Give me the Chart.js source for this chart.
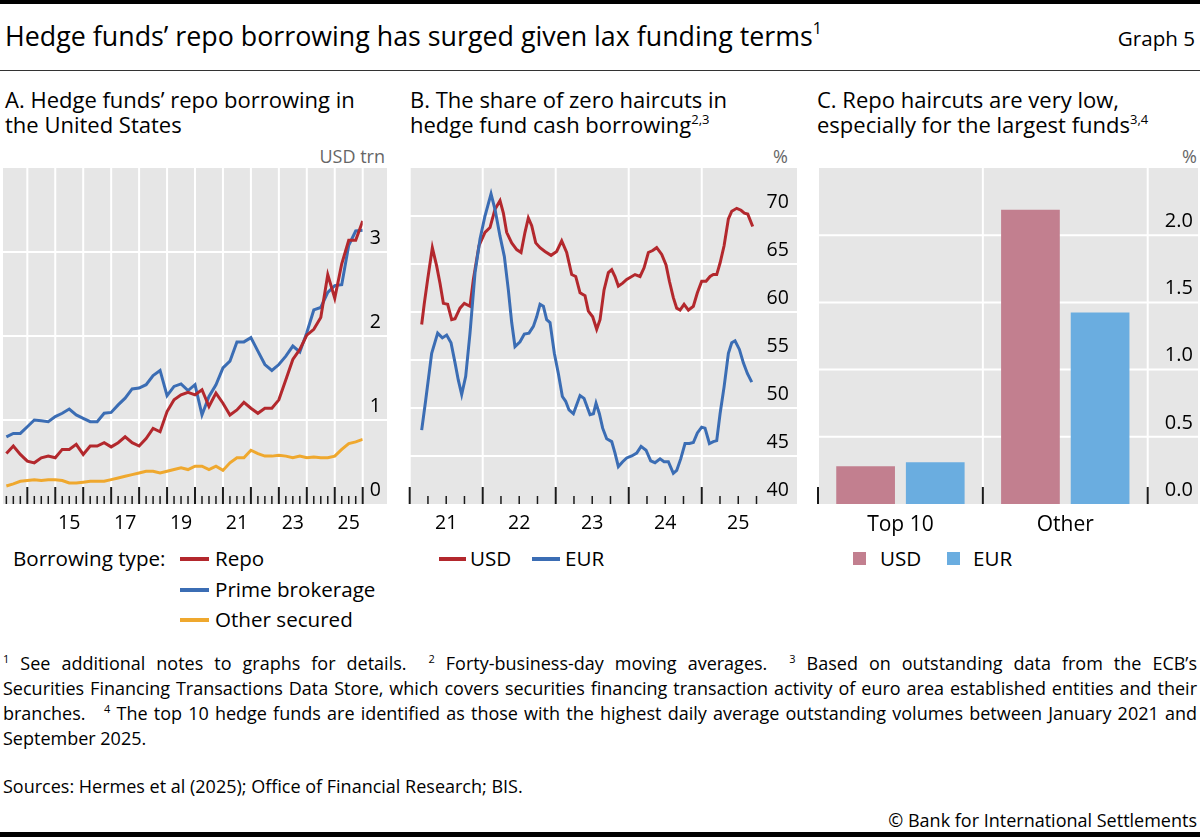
<!DOCTYPE html>
<html>
<head>
<meta charset="utf-8">
<script src="https://cdn.jsdelivr.net/npm/chart.js@4.4.1/dist/chart.umd.min.js"></script>
<style>
  body { margin: 0; width: 1200px; height: 837px; position: relative; background: #fff; overflow: hidden;
         font-family: "Open Sans", sans-serif; color: #000; }
  .t { position: absolute; white-space: nowrap; line-height: 1; }
  .bar { position: absolute; left: 0; width: 1200px; background: #000; }
  canvas { position: absolute; }
  .sw { position: absolute; height: 4px; }
  .sq { position: absolute; width: 13px; height: 13px; }
  .lg { font-size: 20.6px; }
  .fn { position: absolute; left: 3px; width: 1194px; font-size: 18px; line-height: 1; white-space: nowrap;
        text-align: justify; text-align-last: justify; }
  .fn sup, .t sup { font-size: 11px; vertical-align: baseline; position: relative; top: -7px; }
  .pt sup { font-size: 13px; top: -9px; }
</style>
</head>
<body>
<div class="bar" style="top:0;height:4px"></div>
<div class="t" style="left:5px;top:23px;font-size:26.8px">Hedge funds’ repo borrowing has surged given lax funding terms<sup style="font-size:16px;top:-12px">1</sup></div>
<div class="t" style="right:5px;top:28px;font-size:20.6px">Graph 5</div>
<div class="bar" style="top:70px;height:1px;background:#333"></div>

<div class="t pt" style="left:5px;top:87px;font-size:22px;line-height:25px">A. Hedge funds’ repo borrowing in<br>the United States</div>
<div class="t pt" style="left:410px;top:87px;font-size:22px;line-height:25px">B. The share of zero haircuts in<br>hedge fund cash borrowing<sup>2,3</sup></div>
<div class="t pt" style="left:817px;top:87px;font-size:22px;line-height:25px">C. Repo haircuts are very low,<br>especially for the largest funds<sup>3,4</sup></div>

<div class="t" style="right:815px;top:147px;font-size:18px;color:#666">USD trn</div>
<div class="t" style="right:412px;top:147px;font-size:18px;color:#666">%</div>
<div class="t" style="right:3px;top:147px;font-size:18px;color:#666">%</div>

<canvas id="chartA" width="387" height="390" style="left:0;top:150px;width:387px;height:390px"></canvas>
<canvas id="chartB" width="397" height="390" style="left:400px;top:150px;width:397px;height:390px"></canvas>
<canvas id="chartC" width="388" height="390" style="left:810px;top:150px;width:388px;height:390px"></canvas>

<!-- legends -->
<div class="t lg" style="left:13px;top:548px">Borrowing type:</div>
<div class="sw" style="left:180px;top:557px;width:29px;background:#b3282d"></div>
<div class="t lg" style="left:215px;top:548px">Repo</div>
<div class="sw" style="left:180px;top:588px;width:29px;background:#3b6db4"></div>
<div class="t lg" style="left:215px;top:579px">Prime brokerage</div>
<div class="sw" style="left:180px;top:618px;width:29px;background:#efa82e"></div>
<div class="t lg" style="left:215px;top:609px">Other secured</div>

<div class="sw" style="left:439px;top:557px;width:27px;background:#b3282d"></div>
<div class="t lg" style="left:470px;top:548px">USD</div>
<div class="sw" style="left:532px;top:557px;width:28px;background:#3b6db4"></div>
<div class="t lg" style="left:565px;top:548px">EUR</div>

<div class="sq" style="left:853px;top:552px;background:#c27f8f"></div>
<div class="t lg" style="left:880px;top:548px">USD</div>
<div class="sq" style="left:947px;top:552px;background:#6aade0"></div>
<div class="t lg" style="left:973px;top:548px">EUR</div>

<!-- footnotes -->
<div class="fn" style="top:654px"><sup>1</sup> See additional notes to graphs for details. &nbsp;<sup>2</sup> Forty-business-day moving averages. &nbsp;<sup>3</sup> Based on outstanding data from the ECB’s</div>
<div class="fn" style="top:679px">Securities Financing Transactions Data Store, which covers securities financing transaction activity of euro area established entities and their</div>
<div class="fn" style="top:704px">branches. &nbsp;&nbsp;<sup>4</sup> The top 10 hedge funds are identified as those with the highest daily average outstanding volumes between January 2021 and</div>
<div class="fn" style="top:729px;text-align:left;text-align-last:left">September 2025.</div>
<div class="t" style="left:3px;top:777px;font-size:18px">Sources: Hermes et al (2025); Office of Financial Research; BIS.</div>
<div class="t" style="right:3px;top:811px;font-size:18px">© Bank for International Settlements</div>
<div class="bar" style="top:832px;height:5px"></div>

<script>
// ---- Panel A: quarterly, USD trn ----
const quartersA = [
  '2013Q1','2013Q2','2013Q3','2013Q4','2014Q1','2014Q2','2014Q3','2014Q4',
  '2015Q1','2015Q2','2015Q3','2015Q4','2016Q1','2016Q2','2016Q3','2016Q4',
  '2017Q1','2017Q2','2017Q3','2017Q4','2018Q1','2018Q2','2018Q3','2018Q4',
  '2019Q1','2019Q2','2019Q3','2019Q4','2020Q1','2020Q2','2020Q3','2020Q4',
  '2021Q1','2021Q2','2021Q3','2021Q4','2022Q1','2022Q2','2022Q3','2022Q4',
  '2023Q1','2023Q2','2023Q3','2023Q4','2024Q1','2024Q2','2024Q3','2024Q4',
  '2025Q1','2025Q2','2025Q3','2025Q4'
];
const repo = [
  0.60,0.69,0.59,0.51,0.49,0.55,0.57,0.55,0.65,0.65,0.71,0.59,0.69,0.69,0.73,0.68,
  0.73,0.80,0.73,0.69,0.78,0.90,0.86,1.10,1.24,1.30,1.33,1.30,
  1.36,1.16,1.32,1.20,1.06,1.12,1.21,1.14,1.08,1.14,1.14,1.24,1.48,1.72,1.84,2.01,
  2.08,2.22,2.73,2.45,2.86,3.14,3.14,3.37
];
const primeBrokerage = [
  0.80,0.84,0.84,0.92,1.00,0.99,0.98,1.04,1.08,1.13,1.06,1.02,0.98,0.98,1.08,1.09,
  1.18,1.26,1.37,1.38,1.42,1.53,1.59,1.29,1.40,1.43,1.35,1.42,
  1.06,1.28,1.42,1.62,1.70,1.93,1.93,1.98,1.82,1.66,1.59,1.66,1.76,1.88,1.81,2.04,
  2.31,2.34,2.52,2.60,2.61,3.08,3.25,3.26
];
const otherSecured = [
  0.215,0.24,0.27,0.28,0.29,0.28,0.29,0.29,0.28,0.25,0.25,0.26,0.27,0.27,0.27,0.29,
  0.31,0.33,0.35,0.37,0.39,0.39,0.37,0.39,0.41,0.43,0.41,0.45,
  0.45,0.41,0.45,0.40,0.49,0.55,0.55,0.64,0.60,0.57,0.57,0.58,0.57,0.55,0.57,0.55,
  0.56,0.55,0.55,0.57,0.65,0.72,0.74,0.77
];
const tickLabelsA = ['15','17','19','21','23','25'];

// ---- Panel B: share of zero haircuts, % (dates as decimal years) ----
const usdDates = [
  2021.164,2021.200,2021.246,2021.310,2021.369,2021.415,2021.461,2021.520,2021.575,2021.621,
  2021.689,2021.748,2021.826,2021.872,2021.949,2022.031,2022.100,2022.168,2022.237,2022.283,
  2022.328,2022.397,2022.465,2022.525,2022.579,2022.625,2022.671,2022.726,2022.785,2022.853,
  2022.936,2023.013,2023.082,2023.150,2023.219,2023.274,2023.333,2023.401,2023.447,2023.506,
  2023.561,2023.607,2023.662,2023.721,2023.767,2023.812,2023.858,2023.917,2023.972,2024.018,
  2024.086,2024.155,2024.210,2024.269,2024.328,2024.383,2024.452,2024.511,2024.557,2024.611,
  2024.657,2024.703,2024.758,2024.817,2024.885,2024.940,2024.999,2025.059,2025.114,2025.159,
  2025.205,2025.251,2025.306,2025.365,2025.411,2025.479,2025.538,2025.584,2025.630,2025.698
];
const usdShare = [
  58.7,60.9,63.4,66.7,64.8,63.0,60.9,60.8,59.2,59.3,
  60.4,60.9,60.6,63.4,66.9,68.3,68.8,70.7,71.6,70.3,
  68.3,67.2,66.5,66.2,68.3,69.8,69.0,67.2,66.7,66.3,
  65.9,66.3,67.4,66.2,63.9,63.7,62.0,61.7,60.1,59.5,
  58.2,59.2,62.3,64.1,64.4,63.7,62.7,63.0,63.4,63.6,
  63.9,63.7,64.6,66.2,66.4,66.7,66.0,64.9,63.2,61.5,
  60.4,60.2,60.8,60.2,60.6,62.0,63.2,63.2,63.7,63.9,
  63.9,65.1,66.9,69.7,70.5,70.8,70.6,70.3,70.2,68.9
];
const eurDates = [
  2021.164,2021.219,2021.301,2021.383,2021.447,2021.506,2021.566,2021.621,2021.666,2021.712,
  2021.767,2021.826,2021.895,2021.963,2022.031,2022.114,2022.168,2022.237,2022.296,2022.351,
  2022.397,2022.442,2022.511,2022.570,2022.634,2022.694,2022.739,2022.785,2022.831,2022.876,
  2022.922,2022.981,2023.036,2023.091,2023.136,2023.182,2023.242,2023.333,2023.388,2023.470,
  2023.516,2023.552,2023.598,2023.643,2023.698,2023.767,2023.812,2023.858,2023.917,2023.972,
  2024.041,2024.109,2024.169,2024.237,2024.301,2024.360,2024.429,2024.484,2024.543,2024.611,
  2024.657,2024.712,2024.771,2024.831,2024.885,2024.940,2024.999,2025.045,2025.105,2025.159,
  2025.205,2025.251,2025.306,2025.365,2025.411,2025.456,2025.516,2025.570,2025.625,2025.685
];
const eurShare = [
  47.7,50.8,55.7,57.8,57.3,57.6,56.8,54.7,52.9,51.4,
  53.3,57.8,64.1,67.6,70.0,72.3,70.7,67.9,65.8,62.3,
  58.9,56.4,56.9,57.7,57.8,58.5,59.5,60.8,60.6,59.2,
  58.9,55.7,53.6,51.2,50.7,49.8,49.4,51.3,51.0,49.3,
  49.4,50.5,49.4,47.9,46.8,46.5,45.3,43.9,44.4,44.8,
  45.0,45.3,46.0,45.6,44.5,44.3,44.7,44.4,44.4,43.2,
  43.5,44.7,46.3,46.3,46.4,47.4,48.0,47.9,46.3,46.5,
  46.6,49.4,52.2,55.7,56.8,57.0,56.1,54.7,53.6,52.7
];
const tickLabelsB = ['21','22','23','24','25'];

// ---- Panel C: repo haircuts, % ----
const categoriesC = ['Top 10', 'Other'];
const usdHaircut = [0.28, 2.19];
const eurHaircut = [0.31, 1.425];

const RED = '#b3282d', BLUE = '#3b6db4', ORANGE = '#efa82e';
const USD_BAR = '#c27f8f', EUR_BAR = '#6aade0';

Chart.defaults.font.family = '"Open Sans", sans-serif';
Chart.defaults.color = '#000';

function quarterEnd(q) {
  return Number(q.slice(0, 4)) + Number(q.slice(5)) / 4;
}
function points(xs, ys) {
  return xs.map((x, i) => ({ x: x, y: ys[i] }));
}

// grey panel, white grid lines (running under the axis labels) and inward ticks
const panelBack = {
  id: 'panelBack',
  beforeDraw(chart, args, opts) {
    const { ctx, chartArea: a, scales } = chart;
    const x = scales.x, y = scales.y;
    ctx.save();
    ctx.fillStyle = '#e6e6e6';
    ctx.fillRect(a.left, a.top, y.right - a.left, a.bottom - a.top);
    ctx.strokeStyle = '#fff';
    ctx.lineWidth = 2;
    y.ticks.forEach(t => {
      const py = y.getPixelForValue(t.value);
      if (py < a.top + 1 || py > a.bottom - 1) return;
      ctx.beginPath();
      ctx.moveTo(a.left, py);
      ctx.lineTo(y.right, py);
      ctx.stroke();
    });
    (opts.vlines || []).forEach(v => {
      const px = x.getPixelForValue(v);
      ctx.beginPath();
      ctx.moveTo(px, a.top);
      ctx.lineTo(px, a.bottom);
      ctx.stroke();
    });
    ctx.strokeStyle = '#1a1a1a';
    const drawTicks = (vals, len, w) => {
      ctx.lineWidth = w;
      vals.forEach(v => {
        const px = x.getPixelForValue(v);
        ctx.beginPath();
        ctx.moveTo(px, a.bottom);
        ctx.lineTo(px, a.bottom - len);
        ctx.stroke();
      });
    };
    drawTicks(opts.minor || [], 8, 1.5);
    drawTicks(opts.major || [], 17, 2);
    ctx.restore();
  }
};

function rangeStep(from, to, step) {
  const out = [];
  for (let v = from; v <= to + 1e-9; v += step) out.push(Math.round(v * 100) / 100);
  return out;
}

const tickFont = { size: 19.5 };

// the gap between plot and right-hand labels is carried by the (hidden) tick length,
// so that the label padding does not push the plot area down
function lineOptions(cfg) {
  return {
    responsive: false,
    animation: false,
    layout: { padding: { left: cfg.padLeft, top: 18, right: 0, bottom: 0 } },
    elements: { line: { borderWidth: 3, tension: 0 }, point: { radius: 0 } },
    plugins: {
      legend: { display: false },
      tooltip: { enabled: false },
      panelBack: { vlines: cfg.vlines, major: cfg.major, minor: cfg.minor }
    },
    scales: {
      x: {
        type: 'linear', min: cfg.xmin, max: cfg.xmax,
        grid: { display: false, drawTicks: false }, border: { display: false },
        afterBuildTicks: s => { s.ticks = cfg.labels.map(l => ({ value: 2000 + Number(l) + 0.5 })); },
        afterFit: s => { s.height = 36; },
        ticks: { padding: 8, font: tickFont, color: '#000', maxRotation: 0, autoSkip: false,
                 callback: v => String(Math.floor(v) - 2000) }
      },
      y: {
        position: 'right', min: cfg.ymin, max: cfg.ymax,
        grid: { display: false, drawTicks: true, tickLength: cfg.labelPad }, border: { display: false },
        afterFit: s => { s.width = cfg.yWidth; },
        ticks: { stepSize: cfg.step, padding: 0, labelOffset: -14, font: tickFont, color: '#000',
                 callback: v => (Math.abs(v - cfg.ymax) < 1e-6 ? null : String(v)) }
      }
    }
  };
}

const quarterX = quartersA.map(quarterEnd);
const yearsA = rangeStep(2014, 2026, 1);

new Chart(document.getElementById('chartA'), {
  type: 'line',
  data: {
    datasets: [
      { data: points(quarterX, repo), borderColor: RED },
      { data: points(quarterX, primeBrokerage), borderColor: BLUE },
      { data: points(quarterX, otherSecured), borderColor: ORANGE }
    ]
  },
  options: lineOptions({
    padLeft: 3, xmin: 2013.13, xmax: 2026, ymin: 0, ymax: 4, step: 1,
    yWidth: 24.3, labelPad: 7, labels: tickLabelsA,
    vlines: yearsA, major: yearsA,
    minor: rangeStep(2013.25, 2026, 0.25).filter(v => v % 1 !== 0)
  }),
  plugins: [panelBack]
});

const yearsB = rangeStep(2021, 2025, 1);
new Chart(document.getElementById('chartB'), {
  type: 'line',
  data: {
    datasets: [
      { data: points(eurDates, eurShare), borderColor: BLUE },
      { data: points(usdDates, usdShare), borderColor: RED }
    ]
  },
  options: lineOptions({
    padLeft: 9.7, xmin: 2021, xmax: 2025.75, ymin: 40, ymax: 75, step: 5,
    yWidth: 40.5, labelPad: 10, labels: tickLabelsB,
    vlines: yearsB, major: yearsB,
    minor: rangeStep(2021.25, 2025.75, 0.25).filter(v => v % 1 !== 0)
  }),
  plugins: [panelBack]
});

new Chart(document.getElementById('chartC'), {
  type: 'bar',
  data: {
    labels: categoriesC,
    datasets: [
      { data: usdHaircut, backgroundColor: USD_BAR },
      { data: eurHaircut, backgroundColor: EUR_BAR }
    ]
  },
  options: {
    responsive: false,
    animation: false,
    layout: { padding: { left: 8, top: 18, right: 0, bottom: 0 } },
    datasets: { bar: { categoryPercentage: 0.845, barPercentage: 0.843 } },
    plugins: {
      legend: { display: false },
      tooltip: { enabled: false },
      panelBack: { vlines: [-0.5, 0.5, 1.5], major: [-0.5, 0.5, 1.5], minor: [] }
    },
    scales: {
      x: {
        grid: { display: false, drawTicks: false }, border: { display: false },
        afterFit: s => { s.height = 36; },
        ticks: { padding: 8, font: { size: 21 }, color: '#000', maxRotation: 0 }
      },
      y: {
        position: 'right', min: 0, max: 2.5,
        grid: { display: false, drawTicks: true, tickLength: 17 }, border: { display: false },
        afterFit: s => { s.width = 50.3; },
        ticks: { stepSize: 0.5, padding: 0, labelOffset: -14, font: { size: 20 }, color: '#000',
                 callback: v => (Math.abs(v - 2.5) < 1e-6 ? null : v.toFixed(1)) }
      }
    }
  },
  plugins: [panelBack]
});
</script>
</body>
</html>
